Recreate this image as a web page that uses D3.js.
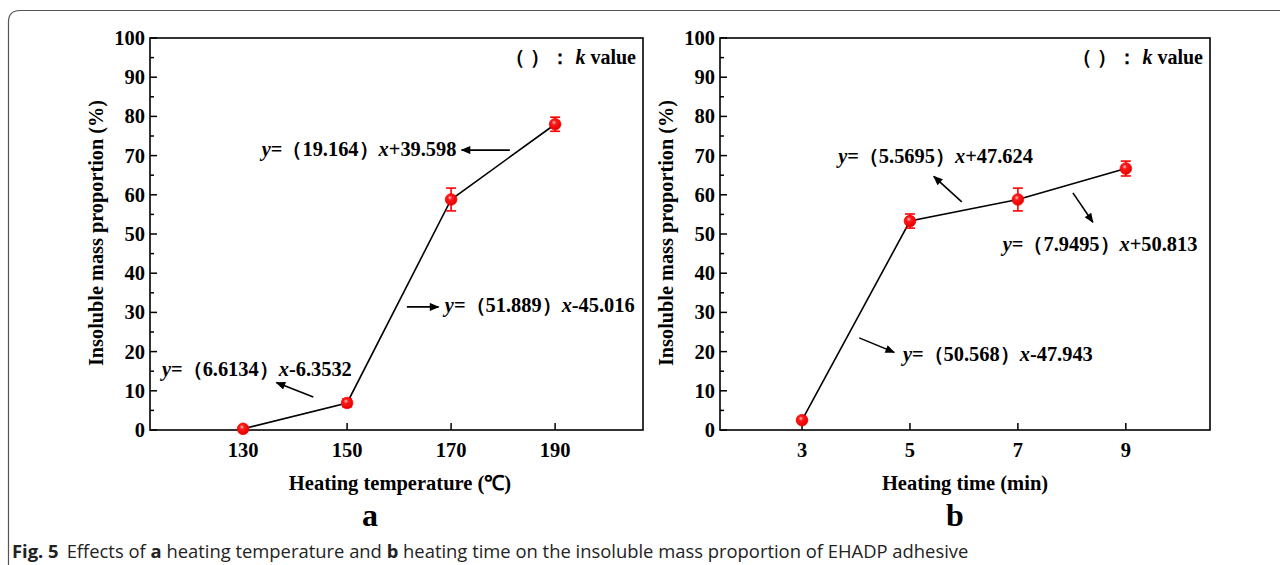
<!DOCTYPE html>
<html lang="en">
<head>
<meta charset="UTF-8">
<title>Fig. 5 insoluble mass proportion</title>
<script src="https://d3js.org/d3.v7.min.js"></script>
<style>
  body { margin: 0; background: #fff; }
  svg { display: block; }
  .serif { font-family: "Liberation Serif", "Times New Roman", serif; font-weight: bold; fill: #000; }
</style>
</head>
<body>
<div id="chart"></div>
<script>
// panel a: heating temperature
const tempX = [130, 150, 170, 190];
const tempY = [0.3, 6.9, 58.8, 78.0];
const tempErr = [0.4, 1.0, 2.9, 1.8];
// panel b: heating time
const timeX = [3, 5, 7, 9];
const timeY = [2.5, 53.3, 58.8, 66.7];
const timeErr = [0.4, 1.8, 2.9, 1.9];

const yTicks = [0, 10, 20, 30, 40, 50, 60, 70, 80, 90, 100];

// fitted equations: [k, tail] and label / arrow anchors in data units
const tempEqs = [
  { k: "19.164", tail: "+39.598", at: [133.6, 69.9], from: [181.3, 71.4], to: [172.0, 71.4] },
  { k: "51.889", tail: "-45.016", at: [168.8, 30.1], from: [161.5, 31.4], to: [167.6, 31.4] },
  { k: "6.6134", tail: "-6.3532", at: [114.4, 13.8], from: [143.5, 8.4], to: [136.4, 12.1] }
];
const timeEqs = [
  { k: "5.5695", tail: "+47.624", at: [3.67, 68.1], from: [5.96, 58.2], to: [5.44, 64.7] },
  { k: "7.9495", tail: "+50.813", at: [6.72, 45.7], from: [8.02, 60.5], to: [8.39, 53.0] },
  { k: "50.568", tail: "-47.943", at: [4.87, 17.6], from: [4.06, 23.5], to: [4.71, 19.8] }
];

const W = 1280, H = 565;
const svg = d3.select("#chart").append("svg")
  .attr("width", W).attr("height", H)
  .attr("viewBox", [0, 0, W, H]);

const defs = svg.append("defs");
const grad = defs.append("radialGradient").attr("id", "ball")
  .attr("cx", "40%").attr("cy", "35%").attr("r", "65%");
grad.append("stop").attr("offset", "0%").attr("stop-color", "#ffc8c8");
grad.append("stop").attr("offset", "30%").attr("stop-color", "#ff1a1a");
grad.append("stop").attr("offset", "100%").attr("stop-color", "#e00000");
defs.append("marker").attr("id", "arrow")
  .attr("viewBox", "0 0 12 10").attr("refX", 11).attr("refY", 5)
  .attr("markerWidth", 13).attr("markerHeight", 8).attr("markerUnits", "userSpaceOnUse")
  .attr("orient", "auto")
  .append("path").attr("d", "M0,0L12,5L0,10z").attr("fill", "#000");

// outer frame with rounded top-left corner
svg.append("path")
  .attr("d", `M${W + 2},10.5 H20 Q8.5,10.5 8.5,22 V${H + 2}`)
  .attr("fill", "none").attr("stroke", "#555").attr("stroke-width", 1.2);

function panel(opt) {
  const g = svg.append("g");
  const x = d3.scaleLinear().domain(opt.xDomain).range([opt.left, opt.right]);
  const y = d3.scaleLinear().domain([0, 100]).range([430, 38]);

  // minor + major y ticks, inward
  g.append("g").selectAll("line")
    .data(d3.range(0, 101, 5))
    .join("line")
    .attr("x1", opt.left).attr("x2", d => opt.left + (d % 10 === 0 ? 7 : 4))
    .attr("y1", d => y(d)).attr("y2", d => y(d))
    .attr("stroke", "#000").attr("stroke-width", 1.5);

  g.append("g").selectAll("text")
    .data(yTicks)
    .join("text")
    .attr("class", "serif")
    .attr("x", opt.left - 5).attr("y", d => y(d) + 7)
    .attr("text-anchor", "end").attr("font-size", 20.5)
    .text(d => d);

  // x ticks, inward
  g.append("g").selectAll("line")
    .data(opt.xs)
    .join("line")
    .attr("x1", d => x(d)).attr("x2", d => x(d))
    .attr("y1", 430).attr("y2", 423)
    .attr("stroke", "#000").attr("stroke-width", 1.5);

  g.append("g").selectAll("text")
    .data(opt.xs)
    .join("text")
    .attr("class", "serif")
    .attr("x", d => x(d)).attr("y", 457)
    .attr("text-anchor", "middle").attr("font-size", 20.5)
    .text(d => d);

  // frame
  g.append("rect")
    .attr("x", opt.left).attr("y", 38)
    .attr("width", opt.right - opt.left).attr("height", 392)
    .attr("fill", "none").attr("stroke", "#000").attr("stroke-width", 1.6);

  // axis titles
  g.append("text").attr("class", "serif")
    .attr("transform", `translate(${opt.left - 47},233) rotate(-90)`)
    .attr("text-anchor", "middle").attr("font-size", 20.3)
    .text("Insoluble mass proportion (%)");
  g.append("text").attr("class", "serif")
    .attr("x", opt.titleX).attr("y", 490)
    .attr("text-anchor", "middle").attr("font-size", 20.5)
    .text(opt.title);
  g.append("text").attr("class", "serif")
    .attr("x", opt.tagX).attr("y", 526)
    .attr("text-anchor", "middle").attr("font-size", 32)
    .text(opt.tag);

  // k value note
  const kt = g.append("text").attr("class", "serif")
    .attr("x", opt.right - 7).attr("y", y(93.4))
    .attr("text-anchor", "end").attr("font-size", 20);
  kt.append("tspan").text("（ ）： ");
  kt.append("tspan").attr("font-style", "italic").text("k");
  kt.append("tspan").text(" value");

  // connecting line
  const pts = opt.xs.map((d, i) => [d, opt.ys[i]]);
  g.append("path")
    .attr("d", d3.line().x(d => x(d[0])).y(d => y(d[1]))(pts))
    .attr("fill", "none").attr("stroke", "#000").attr("stroke-width", 1.6);

  // error bars
  const eb = g.append("g").attr("stroke", "#f00").attr("stroke-width", 1.6);
  pts.forEach((p, i) => {
    const e = opt.err[i];
    const cx = x(p[0]);
    eb.append("line").attr("x1", cx).attr("x2", cx)
      .attr("y1", y(p[1] - e)).attr("y2", y(p[1] + e));
    [p[1] - e, p[1] + e].forEach(v => {
      eb.append("line").attr("x1", cx - 5).attr("x2", cx + 5)
        .attr("y1", y(v)).attr("y2", y(v));
    });
  });

  g.append("g").selectAll("circle")
    .data(pts)
    .join("circle")
    .attr("cx", d => x(d[0])).attr("cy", d => y(d[1]))
    .attr("r", 5.8)
    .attr("fill", "url(#ball)").attr("stroke", "#f00").attr("stroke-width", 0.8);

  // equations and arrows
  opt.eqs.forEach(q => {
    g.append("line")
      .attr("x1", x(q.from[0])).attr("y1", y(q.from[1]))
      .attr("x2", x(q.to[0])).attr("y2", y(q.to[1]))
      .attr("stroke", "#000").attr("stroke-width", 1.6)
      .attr("marker-end", "url(#arrow)");
    const t = g.append("text").attr("class", "serif")
      .attr("x", x(q.at[0])).attr("y", y(q.at[1]))
      .attr("font-size", 20.4);
    t.append("tspan").attr("font-style", "italic").text("y");
    t.append("tspan").text("=（" + q.k + "）");
    t.append("tspan").attr("font-style", "italic").text("x");
    t.append("tspan").text(q.tail);
  });
}

panel({
  left: 150, right: 643, xDomain: [112.1, 206.9],
  xs: tempX, ys: tempY, err: tempErr, eqs: tempEqs,
  title: "Heating temperature (℃)", titleX: 400, tag: "a", tagX: 370
});
panel({
  left: 720, right: 1210, xDomain: [1.48, 10.56],
  xs: timeX, ys: timeY, err: timeErr, eqs: timeEqs,
  title: "Heating time (min)", titleX: 965, tag: "b", tagX: 955
});

// caption
const cap = svg.append("text")
  .attr("x", 12).attr("y", 558)
  .attr("font-family", "'Open Sans', 'Noto Sans', sans-serif")
  .attr("font-size", 18.4).attr("fill", "#222");
cap.append("tspan").attr("font-weight", "bold").text("Fig. 5");
cap.append("tspan").attr("dx", 8).text("Effects of ");
cap.append("tspan").attr("font-weight", "bold").text("a");
cap.append("tspan").text(" heating temperature and ");
cap.append("tspan").attr("font-weight", "bold").text("b");
cap.append("tspan").text(" heating time on the insoluble mass proportion of EHADP adhesive");
</script>
</body>
</html>
